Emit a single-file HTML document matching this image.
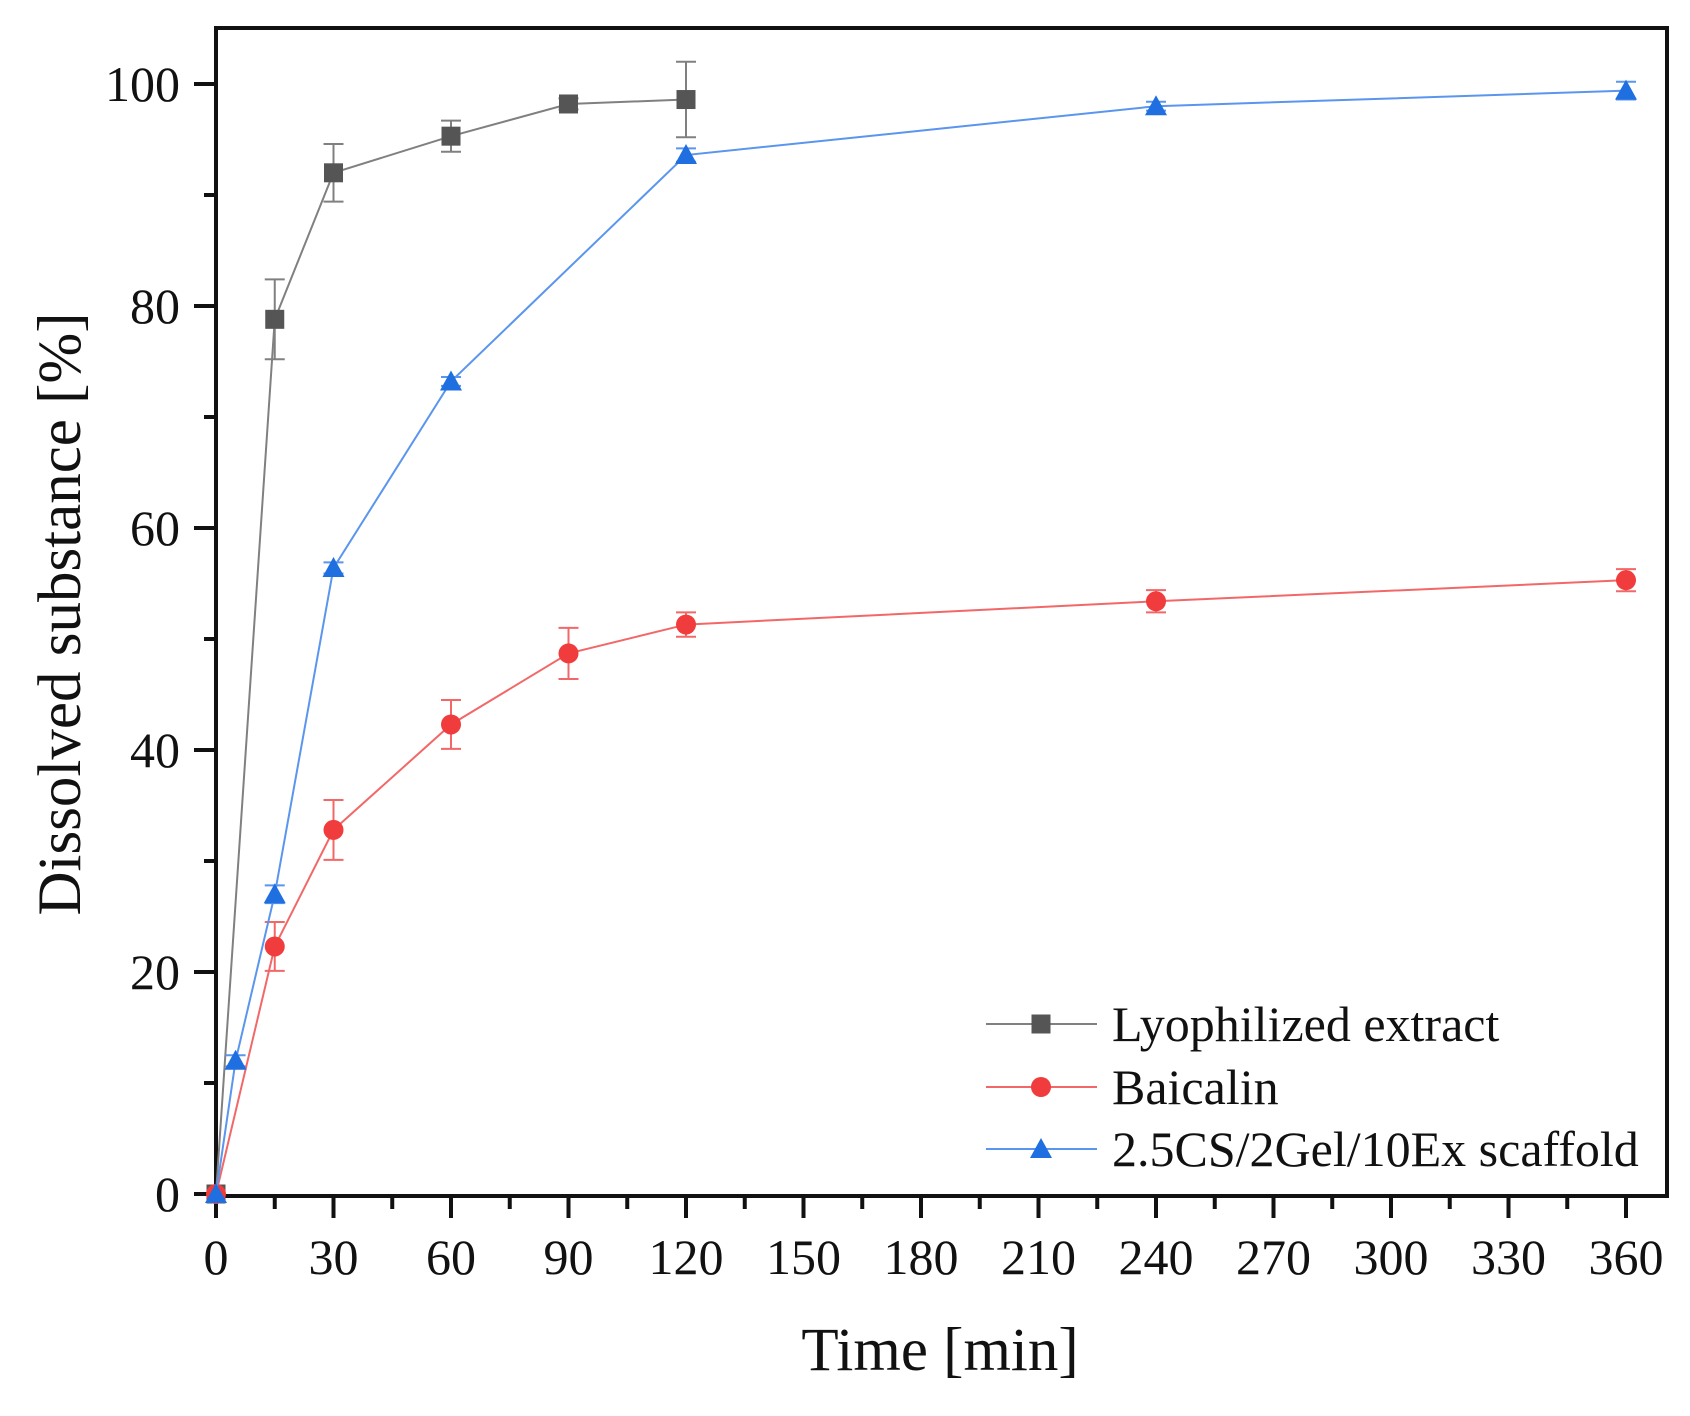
<!DOCTYPE html>
<html><head><meta charset="utf-8"><style>
html,body{margin:0;padding:0;background:#fff;}
svg text{font-family:"Liberation Serif",serif;fill:#111;}
</style></head><body>
<svg id="chart" width="1690" height="1411" viewBox="0 0 1690 1411">
<rect x="216" y="28" width="1451" height="1168" fill="none" stroke="#111" stroke-width="4"/>
<g id="axes"></g>
<g id="series"></g>
<text x="940" y="1370" font-size="61" text-anchor="middle">Time [min]</text>
<text transform="translate(80,614) rotate(-90)" font-size="61" text-anchor="middle">Dissolved substance [%]</text>
<g id="legend"></g>
</svg>
<script>
const xTicks=[0,30,60,90,120,150,180,210,240,270,300,330,360];
const yTicks=[0,20,40,60,80,100];
const names=["Lyophilized extract","Baicalin","2.5CS/2Gel/10Ex scaffold"];
const colors=["#555555","#f03c3c","#1f6fe0"];
const lineColors=["#808080","#f26868","#5a95ee"];
const tA=[0,15,30,60,90,120];
const vA=[0,78.8,92,95.3,98.2,98.6];
const eA=[0,3.6,2.6,1.4,0.5,3.4];
const tB=[0,15,30,60,90,120,240,360];
const vB=[0,22.3,32.8,42.3,48.7,51.3,53.4,55.3];
const eB=[0,2.2,2.7,2.2,2.3,1.1,1.0,1.0];
const tC=[0,5,15,30,60,120,240,360];
const vC=[0,12,27,56.4,73.2,93.6,98,99.4];
const eC=[0,0.5,0.8,0.5,0.4,0.6,0.4,0.8];
const NS="http://www.w3.org/2000/svg";
const X=t=>216+t*(1626-216)/360;
const Y=v=>1194-v*11.1;
function mk(tag,attrs,parent){const e=document.createElementNS(NS,tag);for(const k in attrs)e.setAttribute(k,attrs[k]);parent.appendChild(e);return e;}
const axes=document.getElementById('axes');
for(let i=0;i<xTicks.length;i++){
  const x=X(xTicks[i]);
  const tk=mk('line',{x1:x,x2:x,y1:1196,y2:1218,stroke:'#111','stroke-width':4},axes);
  
  
  if(i<xTicks.length-1){const xm=X(xTicks[i]+15);
    const m=mk('line',{x1:xm,x2:xm,y1:1196,y2:1209,stroke:'#111','stroke-width':4},axes);
    
    }
  const t=mk('text',{x:x,y:1274,'font-size':50,'text-anchor':'middle'},axes);
  t.textContent=xTicks[i];
  
  
}
for(let i=0;i<yTicks.length;i++){
  const y=Y(yTicks[i]);
  const tk=mk('line',{x1:194,x2:216,y1:y,y2:y,stroke:'#111','stroke-width':4},axes);
  
  
  if(i<yTicks.length-1){const ym=Y(yTicks[i]+10);
    const m=mk('line',{x1:204,x2:216,y1:ym,y2:ym,stroke:'#111','stroke-width':4},axes);
    
    }
  const t=mk('text',{x:180,y:y+17,'font-size':50,'text-anchor':'end'},axes);
  t.textContent=yTicks[i];
  
  
}
function marker(k,x,y,parent){
  let e;
  if(k===0)e=mk('rect',{x:x-9.5,y:y-9.5,width:19,height:19,fill:colors[0]},parent);
  else if(k===1)e=mk('circle',{cx:x,cy:y,r:10,fill:colors[1]},parent);
  else e=mk('polygon',{points:`${x},${y-11} ${x+11},${y+9} ${x-11},${y+9}`,fill:colors[2]},parent);
  return e;
}
const series=document.getElementById('series');
const data=[[tA,vA,eA],[tB,vB,eB],[tC,vC,eC]];
const snames=['lyophilized-extract','baicalin','scaffold'];
data.forEach(([t,v,e],k)=>{
  const g=mk('g',{},series);
  
  
  const pl=mk('polyline',{points:t.map((tt,i)=>X(tt)+','+Y(v[i])).join(' '),fill:'none',stroke:lineColors[k],'stroke-width':2},g);
  
  
  t.forEach((tt,i)=>{
    const x=X(tt),y1=Y(v[i]+e[i]),y2=Y(v[i]-e[i]);
    if(e[i]>0){
      const eb=mk('path',{d:`M${x},${y1}V${y2}M${x-10},${y1}H${x+10}M${x-10},${y2}H${x+10}`,stroke:lineColors[k],'stroke-width':2,fill:'none'},g);
      
      
    }
    const m=marker(k,x,Y(v[i]),g);
    
    
  });
});
const legend=document.getElementById('legend');
const ly=[1024,1087,1149];
names.forEach((n,k)=>{
  const g=mk('g',{},legend);
  
  
  mk('line',{x1:986,x2:1097,y1:ly[k],y2:ly[k],stroke:lineColors[k],'stroke-width':2},g);
  marker(k,1041,ly[k],g);
  const t=mk('text',{x:1112,y:ly[k]+17,'font-size':50},g);
  t.textContent=n;
});
</script>
</body></html>
